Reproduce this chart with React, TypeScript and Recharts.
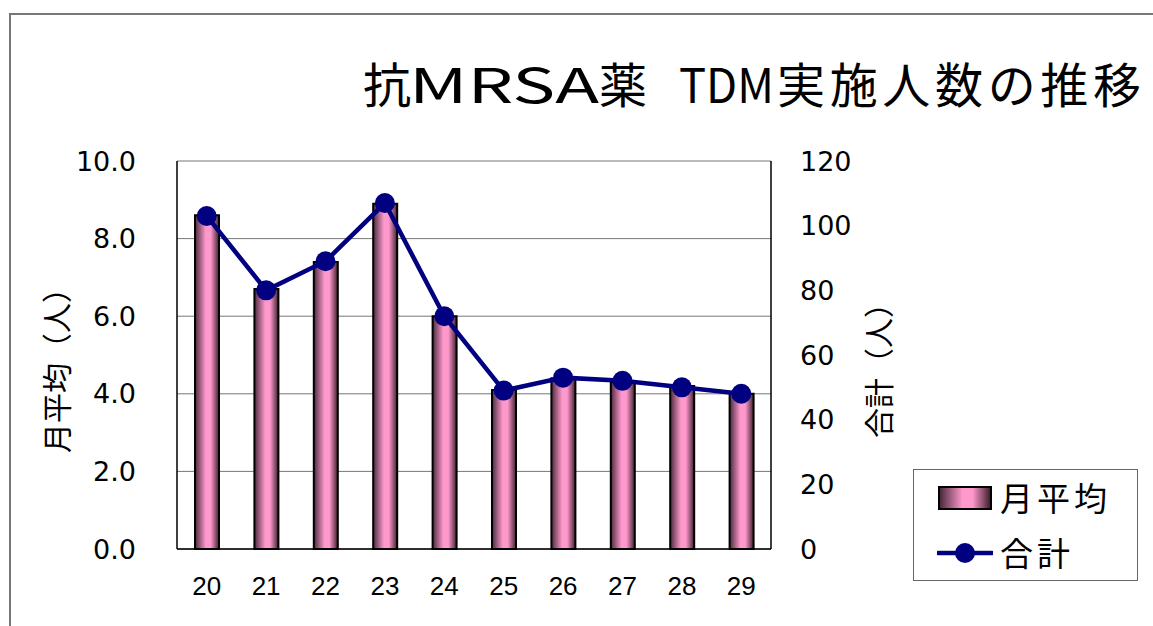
import React from 'react';
import {
  ComposedChart,
  Bar,
  Line,
  XAxis,
  YAxis,
  CartesianGrid,
  Legend,
} from 'recharts';

// 年度ごとのTDM実施人数
const years = ['20', '21', '22', '23', '24', '25', '26', '27', '28', '29'];
const monthlyAvg = [8.6, 6.7, 7.4, 8.9, 6.0, 4.1, 4.4, 4.3, 4.2, 4.0];
const totals = [103, 80, 89, 107, 72, 49, 53, 52, 50, 48];
const leftTicks = [0, 2, 4, 6, 8, 10];
const rightTicks = [0, 20, 40, 60, 80, 100, 120];

const data = years.map((year, i) => ({ year, avg: monthlyAvg[i], total: totals[i] }));

const NAVY = '#000080';
const JP = '"Noto Sans CJK JP", "Noto Sans", sans-serif';
const BAR_GRADIENT = 'linear-gradient(to right, #4a2a3c 0%, #ff99cc 45%, #ff99cc 65%, #40202f 100%)';

const LegendBox = () => (
  <div
    style={{
      width: 225,
      height: 112,
      boxSizing: 'border-box',
      border: '1px solid #666',
      background: '#fff',
      fontFamily: JP,
      fontSize: 33,
      color: '#000',
      lineHeight: 1,
    }}
  >
    <div style={{ display: 'flex', alignItems: 'center', height: 55, paddingLeft: 24 }}>
      <div
        style={{
          width: 54,
          height: 24,
          boxSizing: 'border-box',
          border: '2px solid #000',
          background: BAR_GRADIENT,
        }}
      />
      <span style={{ marginLeft: 8, letterSpacing: 4 }}>月平均</span>
    </div>
    <div style={{ display: 'flex', alignItems: 'center', height: 55, paddingLeft: 23 }}>
      <svg width={56} height={24}>
        <line x1={1} y1={12} x2={55} y2={12} stroke={NAVY} strokeWidth={4.5} strokeLinecap="round" />
        <circle cx={28} cy={12} r={10} fill={NAVY} />
      </svg>
      <span style={{ marginLeft: 7, letterSpacing: 4 }}>合計</span>
    </div>
  </div>
);

const leftLabel = (props: any) => {
  const vb = props.viewBox ?? { x: 0, y: 161, width: 177, height: 388 };
  const x = vb.x + 55;
  const y = vb.y + vb.height / 2 + 8;
  return (
    <text
      x={x}
      y={y}
      transform={`rotate(-90, ${x}, ${y})`}
      textAnchor="middle"
      dominantBaseline="central"
      fontSize={30}
      fontFamily={JP}
      fill="#000"
    >
      月平均（人）
    </text>
  );
};

const rightLabel = (props: any) => {
  const vb = props.viewBox ?? { x: 771, y: 161, width: 382, height: 388 };
  const x = vb.x + 106;
  const y = vb.y + vb.height / 2 + 8;
  return (
    <text
      x={x}
      y={y}
      transform={`rotate(-90, ${x}, ${y})`}
      textAnchor="middle"
      dominantBaseline="central"
      fontSize={30}
      fontFamily={JP}
      fill="#000"
    >
      合計（人）
    </text>
  );
};

export default function App() {
  return (
    <div style={{ position: 'absolute', left: 0, top: 0, width: 1153, height: 626, background: '#fff' }}>
      <ComposedChart
        width={1153}
        height={626}
        data={data}
        margin={{ top: 161, right: 0, bottom: 0, left: 0 }}
      >
        <defs>
          <linearGradient id="barGrad" x1="0" y1="0" x2="1" y2="0">
            <stop offset="0%" stopColor="#4a2a3c" />
            <stop offset="45%" stopColor="#ff99cc" />
            <stop offset="65%" stopColor="#ff99cc" />
            <stop offset="100%" stopColor="#40202f" />
          </linearGradient>
        </defs>
        <CartesianGrid yAxisId="left" vertical={false} stroke="#777" strokeWidth={1} />
        <XAxis
          dataKey="year"
          height={77}
          interval={0}
          tickLine={false}
          tickSize={0}
          tickMargin={28}
          axisLine={{ stroke: '#000', strokeWidth: 1.5 }}
          tick={{ fill: '#000', fontSize: 26, fontFamily: '"Liberation Sans", Arial, sans-serif' }}
        />
        <YAxis
          yAxisId="left"
          width={177}
          domain={[0, 10]}
          ticks={leftTicks}
          tickFormatter={(v: number) => v.toFixed(1)}
          tickLine={false}
          tickSize={0}
          tickMargin={41}
          axisLine={{ stroke: '#000', strokeWidth: 1.5 }}
          tick={{ fill: '#000', fontSize: 27, fontFamily: '"DejaVu Sans", sans-serif' }}
          label={leftLabel}
        />
        <YAxis
          yAxisId="right"
          orientation="right"
          width={382}
          domain={[0, 120]}
          ticks={rightTicks}
          tickLine={false}
          tickSize={0}
          tickMargin={29}
          axisLine={{ stroke: '#000', strokeWidth: 1.5 }}
          tick={{ fill: '#000', fontSize: 27, fontFamily: '"DejaVu Sans", sans-serif' }}
          label={rightLabel}
        />
        <Bar
          yAxisId="left"
          dataKey="avg"
          name="月平均"
          barSize={24}
          fill="url(#barGrad)"
          stroke="#000"
          strokeWidth={2}
          isAnimationActive={false}
        />
        <Line
          yAxisId="right"
          type="linear"
          dataKey="total"
          name="合計"
          stroke={NAVY}
          strokeWidth={4.5}
          dot={{ r: 10, fill: NAVY, stroke: NAVY, strokeWidth: 0 }}
          activeDot={false}
          isAnimationActive={false}
        />
        <Legend
          layout="horizontal"
          verticalAlign="middle"
          align="center"
          content={<LegendBox />}
          wrapperStyle={{ left: 913, top: 469, width: 225, height: 112 }}
        />
      </ComposedChart>

      {/* 外枠とタイトル */}
      <div
        style={{
          position: 'absolute',
          left: 9,
          top: 13,
          right: 0,
          bottom: 0,
          borderLeft: '2px solid #777',
          borderTop: '2px solid #777',
          pointerEvents: 'none',
        }}
      />
      <svg
        width={1153}
        height={130}
        style={{ position: 'absolute', left: 0, top: 0, pointerEvents: 'none' }}
      >
        <text y={103} fontSize={48} fontFamily={JP} fill="#000">
          <tspan x={363}>抗</tspan>
          <tspan x={409} textLength={190} lengthAdjust="spacingAndGlyphs">MRSA</tspan>
          <tspan x={599}>薬</tspan>
          <tspan x={641} fontSize={36}>　</tspan>
          <tspan x={679} textLength={95} lengthAdjust="spacingAndGlyphs">TDM</tspan>
          <tspan x={777} textLength={364} lengthAdjust="spacing">実施人数の推移</tspan>
        </text>
      </svg>
    </div>
  );
}
